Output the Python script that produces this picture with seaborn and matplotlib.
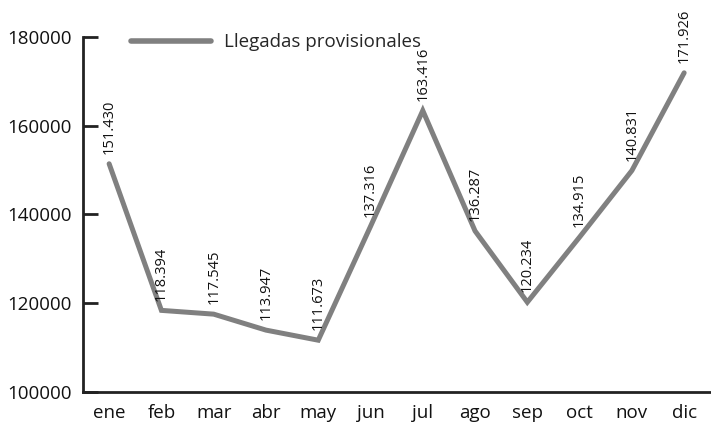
import matplotlib
matplotlib.use("Agg")
import matplotlib.pyplot as plt
import seaborn as sns
import pandas as pd
import numpy as np

months = ["ene", "feb", "mar", "abr", "may", "jun", "jul", "ago", "sep", "oct", "nov", "dic"]
values = [151430, 118394, 117545, 113947, 111673, 137316, 163416, 136287, 120234, 134915, 149900, 171926]
value_labels = ["151.430", "118.394", "117.545", "113.947", "111.673", "137.316",
                "163.416", "136.287", "120.234", "134.915", "140.831", "171.926"]
series_name = "Llegadas provisionales"
y_ticks = [100000, 120000, 140000, 160000, 180000]

sns.set_theme(style="white")
plt.rcParams["font.family"] = ["Open Sans", "DejaVu Sans"]

df = pd.DataFrame({"mes": np.arange(len(months)), "valor": values})

fig = plt.figure(figsize=(7.11, 4.23), dpi=100)
ax = fig.add_axes([83/711, 1-392/423, 628/711 - 0.001, (392-37)/423])

line_color = "#808080"
sns.lineplot(data=df, x="mes", y="valor", ax=ax, color=line_color, linewidth=3.6,
             label=series_name, solid_capstyle="round", solid_joinstyle="miter")

for x, v, t in zip(df["mes"], values, value_labels):
    ax.annotate(t, (x, v), xytext=(0, 7), textcoords="offset points",
                rotation=90, ha="center", va="bottom", fontsize=10.5, color="#111111")

ax.set_xlim(-0.5, len(months) - 0.5)
ax.set_ylim(y_ticks[0], y_ticks[-1])
ax.set_yticks(y_ticks)
ax.set_yticklabels([str(t) for t in y_ticks], fontsize=13.5, color="#111111")
ax.set_xticks(np.arange(len(months)))
ax.set_xticklabels(months, fontsize=13.5, color="#111111")
ax.set_xticks(np.arange(len(months)) + 0.5, minor=True)
ax.tick_params(axis="x", which="major", length=0, pad=8.5)
ax.tick_params(axis="x", which="minor", direction="in", length=6, width=2, color="#222222")
ax.tick_params(axis="y", which="major", direction="in", length=11, width=2, color="#222222", pad=8, left=True)
ax.set_xlabel("")
ax.set_ylabel("")

for s in ["top", "right"]:
    ax.spines[s].set_visible(False)
for s in ["left", "bottom"]:
    ax.spines[s].set_visible(True)
    ax.spines[s].set_color("#222222")
    ax.spines[s].set_linewidth(2)

leg = ax.legend(loc="center left", bbox_to_anchor=(0.076, 0.985), frameon=False,
                fontsize=13.5, handlelength=4.3, handletextpad=0.7,
                borderaxespad=0, borderpad=0)
for h in leg.get_lines():
    h.set_linewidth(4)

fig.savefig("out.png", dpi=100)
